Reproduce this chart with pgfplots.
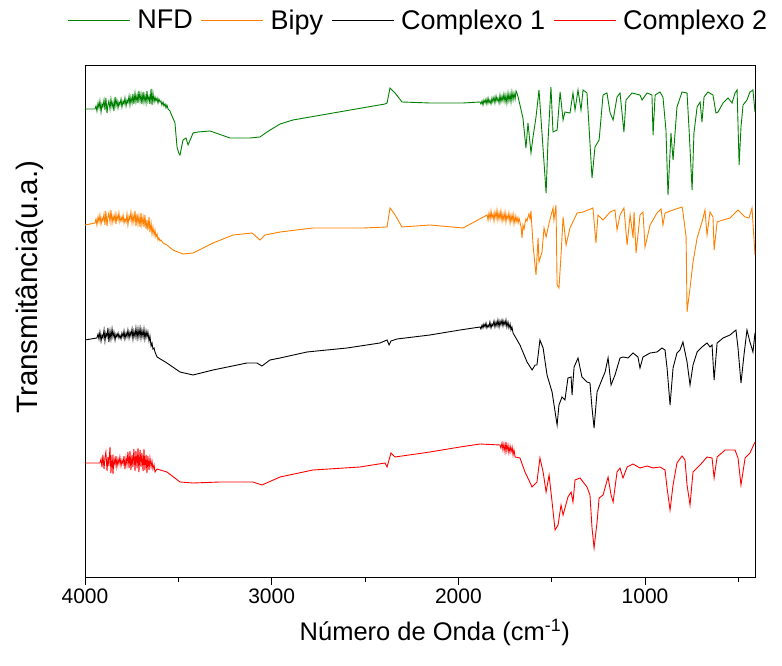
\documentclass[border=0pt]{standalone}
\usepackage{pgfplots}
\pgfplotsset{compat=1.18}
\usepackage{fontspec}
\setmainfont{Liberation Sans}

\definecolor{nfd}{RGB}{0,128,0}
\definecolor{bipy}{RGB}{255,128,0}
\definecolor{cpx2}{RGB}{255,0,0}

\begin{document}
\begin{tikzpicture}
\begin{axis}[
  width=670pt, height=512pt, scale only axis,
  x dir=reverse,
  xmin=411, xmax=4000,
  ymin=0, ymax=512,
  xtick={1000,2000,3000,4000},
  xticklabels={1000,2000,3000,4000},
  minor xtick={500,1500,2500,3500},
  ytick=\empty,
  tick align=outside,
  xtick pos=bottom,
  major tick length=8pt,
  minor tick length=5pt,
  axis line style={line width=0.8pt},
  every tick/.style={black, line width=0.8pt},
  xticklabel style={font=\fontsize{21}{24}\selectfont},
  xlabel={Número de Onda (cm\textsuperscript{-1})},
  ylabel={Transmitância(u.a.)},
  xlabel style={font=\fontsize{25.5}{30}\selectfont, at={(axis description cs:0.522,-0.109)}, anchor=center},
  ylabel style={font=\fontsize{29.5}{34}\selectfont, at={(axis description cs:-0.082,0.566)}, anchor=center},
  legend columns=-1,
  legend style={draw=none, fill=none, at={(axis description cs:0.496,1)}, anchor=center, yshift=45pt,
    font=\fontsize{27}{32}\selectfont,
    nodes={inner sep=0pt},
    /tikz/every even column/.append style={column sep=8pt},
    /tikz/every odd column/.append style={column sep=7pt}},
  legend image code/.code={\draw[#1] (0pt,0pt) -- (62pt,0pt);},
  every axis plot/.append style={line width=0.9pt},
]
\addplot[nfd] table {
w y
4000 468
3946 468
3941 471
3936 466
3930 474
3925 469
3920 476
3914 465
3909 473
3904 470
3898 477
3893 467
3888 479
3882 464
3877 472
3872 476
3866 468
3861 478
3855 470
3850 475
3845 466
3839 480
3834 471
3829 477
3823 469
3818 475
3813 472
3807 478
3802 470
3796 476
3791 473
3786 479
3780 471
3775 477
3770 474
3764 481
3759 472
3754 480
3748 474
3743 483
3738 473
3732 484
3727 475
3721 482
3716 474
3711 486
3705 476
3700 483
3695 473
3689 485
3684 475
3679 482
3673 474
3668 486
3663 476
3657 481
3652 473
3646 488
3641 472
3636 484
3630 475
3625 480
3620 476
3614 479
3609 474
3604 478
3598 475
3593 476
3588 472
3582 475
3577 471
3571 473
3566 469
3561 472
3555 468
3545 466
3518 454
3507 430
3496 423
3491 422
3475 437
3459 439
3448 432
3421 444
3395 445
3330 446
3223 439
3116 439
3063 440
3025 445
2955 453
2886 457
2671 464
2393 473
2382 474
2366 489
2339 484
2302 475
2152 474
1975 474
1884 475
1879 473
1873 476
1868 472
1863 477
1857 474
1852 478
1847 473
1841 479
1836 474
1831 477
1825 473
1820 479
1815 475
1809 480
1804 474
1798 481
1793 476
1788 479
1782 474
1777 482
1772 475
1766 481
1761 476
1756 483
1750 475
1745 482
1740 474
1734 484
1729 476
1723 483
1718 475
1713 485
1707 477
1702 484
1696 478
1691 486
1686 484
1680 480
1654 459
1638 429
1627 454
1611 424
1600 440
1584 460
1568 487
1552 444
1530 384
1520 435
1504 490
1493 445
1471 447
1455 485
1439 457
1429 465
1402 464
1386 484
1375 467
1359 487
1343 467
1332 487
1311 484
1300 450
1284 399
1268 430
1246 437
1225 482
1204 484
1187 464
1171 457
1150 480
1134 484
1113 445
1102 477
1070 484
1027 482
1016 477
989 484
963 482
957 442
946 482
920 485
904 480
888 447
877 382
861 444
850 417
829 470
802 485
775 484
764 447
748 387
738 444
721 470
705 475
695 455
684 480
663 485
636 482
620 464
609 465
582 474
555 479
534 474
518 484
507 487
496 412
486 450
475 472
454 477
438 485
422 487
411 465
};
\addlegendentry{NFD}
\addplot[bipy] table {
w y
4000 352
3946 354
3941 358
3936 352
3930 360
3925 355
3920 362
3914 353
3909 359
3904 356
3898 363
3893 352
3888 366
3882 351
3877 360
3872 364
3866 355
3861 367
3855 354
3850 361
3845 356
3839 363
3834 353
3829 362
3823 357
3818 364
3813 355
3807 360
3802 356
3796 362
3791 354
3786 358
3780 355
3775 363
3770 352
3764 361
3759 357
3754 365
3748 354
3743 362
3738 355
3732 366
3727 351
3721 363
3716 353
3711 361
3705 350
3700 364
3695 352
3689 360
3684 350
3679 362
3673 348
3668 357
3663 347
3657 360
3652 345
3646 354
3641 343
3636 350
3630 342
3625 347
3620 340
3614 343
3609 337
3604 339
3598 336
3593 337
3582 334
3561 332
3529 327
3475 323
3421 324
3314 334
3207 342
3105 344
3063 337
3036 342
2955 345
2779 349
2511 349
2382 350
2366 369
2339 362
2302 350
2152 352
1975 349
1846 362
1841 357
1836 364
1830 358
1825 366
1820 359
1814 363
1809 356
1804 365
1798 359
1793 367
1788 357
1782 364
1777 358
1772 366
1766 356
1761 363
1756 357
1750 365
1745 355
1740 362
1734 358
1729 364
1723 354
1718 362
1713 356
1707 363
1702 353
1696 361
1691 355
1686 360
1680 354
1675 359
1670 355
1664 350
1659 339
1654 352
1648 348
1643 354
1638 358
1632 356
1627 360
1622 363
1616 358
1611 366
1600 332
1584 302
1573 339
1568 315
1552 325
1541 349
1530 340
1514 354
1493 369
1488 357
1477 372
1471 292
1461 289
1450 322
1439 360
1423 332
1402 349
1364 364
1332 365
1279 369
1263 334
1252 362
1225 357
1187 365
1161 367
1150 347
1134 362
1113 369
1096 332
1080 362
1064 339
1059 365
1048 324
1027 362
1011 365
1000 330
973 352
936 364
914 368
904 352
893 364
850 367
802 370
797 365
780 340
775 265
759 289
743 315
721 339
695 355
679 367
668 342
652 365
636 360
630 327
614 355
582 357
545 359
502 367
464 360
443 359
427 369
411 322
};
\addlegendentry{Bipy}
\addplot[black] table {
w y
4000 237
3936 239
3930 243
3925 238
3920 245
3914 236
3909 242
3904 239
3898 247
3893 236
3888 244
3882 240
3877 249
3872 235
3866 246
3861 238
3855 248
3850 240
3845 245
3839 237
3834 243
3829 240
3823 244
3818 239
3813 242
3807 238
3802 244
3796 240
3791 246
3786 238
3780 244
3775 240
3770 247
3764 239
3759 245
3754 241
3748 248
3743 238
3738 246
3732 240
3727 249
3721 239
3716 248
3711 240
3705 249
3700 239
3695 247
3689 240
3684 248
3679 238
3673 246
3668 240
3663 245
3657 236
3652 241
3646 231
3641 234
3636 228
3630 229
3625 225
3614 220
3561 214
3491 205
3421 202
3314 207
3132 214
3079 214
3052 211
3009 217
2955 219
2811 225
2596 229
2420 234
2382 237
2371 232
2361 236
2329 238
2152 242
1991 247
1884 250
1879 248
1873 252
1868 249
1863 253
1857 250
1852 254
1847 249
1841 252
1836 250
1831 255
1825 249
1820 253
1815 251
1809 256
1804 250
1798 255
1793 251
1788 257
1782 250
1777 256
1772 252
1766 257
1761 251
1756 256
1750 252
1745 257
1740 250
1734 255
1729 249
1723 253
1718 247
1713 250
1707 244
1670 232
1632 215
1605 207
1589 212
1579 212
1563 237
1546 229
1525 202
1498 185
1471 152
1461 172
1445 180
1429 177
1413 199
1396 200
1391 182
1380 210
1359 219
1338 200
1311 195
1295 194
1284 169
1273 149
1257 185
1236 195
1214 205
1198 219
1182 192
1161 202
1134 219
1118 220
1091 219
1064 224
1038 220
1027 209
1011 220
973 224
936 225
909 229
893 227
882 209
866 172
850 209
829 224
813 227
797 235
775 215
759 192
743 212
721 225
695 230
668 234
652 230
641 232
630 197
614 234
582 239
545 242
513 247
502 229
486 194
470 222
454 247
438 235
422 225
411 244
};
\addlegendentry{Complexo 1\hspace{13pt}}
\addplot[cpx2] table {
w y
4000 114
3920 114
3914 118
3909 110
3904 122
3898 108
3893 119
3888 125
3882 106
3877 120
3872 111
3866 130
3861 104
3855 122
3850 103
3845 119
3839 112
3834 121
3829 110
3823 118
3818 113
3813 120
3807 111
3802 117
3796 113
3791 121
3786 108
3780 119
3775 112
3770 125
3764 109
3759 126
3754 107
3748 122
3743 110
3738 128
3732 106
3727 126
3721 109
3716 129
3711 105
3705 127
3700 110
3695 124
3689 106
3684 128
3679 107
3673 122
3668 104
3663 121
3657 107
3652 119
3646 110
3641 116
3636 108
3630 112
3625 105
3614 108
3561 105
3491 95
3421 94
3277 95
3100 95
3052 92
2955 100
2779 107
2527 110
2393 114
2382 110
2361 124
2339 120
2152 125
1991 130
1884 133
1777 132
1772 129
1766 134
1761 127
1756 133
1750 125
1745 135
1740 126
1734 132
1729 124
1723 131
1718 125
1712 130
1707 122
1702 127
1696 120
1670 119
1643 105
1605 90
1579 95
1563 119
1546 105
1530 85
1514 102
1498 75
1482 47
1466 52
1450 72
1439 62
1413 80
1396 85
1386 75
1375 97
1348 99
1311 90
1295 82
1284 49
1273 29
1257 55
1246 79
1225 82
1198 100
1182 82
1171 75
1150 105
1134 109
1118 99
1096 110
1064 113
1027 109
989 111
957 109
920 110
893 107
882 89
866 67
850 92
829 114
802 121
786 117
775 92
759 72
743 105
705 112
668 120
641 119
630 99
614 120
571 127
518 127
502 119
486 92
464 119
438 124
411 135
};
\addlegendentry{Complexo 2}
\end{axis}
\path (current axis.south west) ++(-85pt,-89pt) rectangle ++(782pt,666pt);
\end{tikzpicture}
\end{document}
